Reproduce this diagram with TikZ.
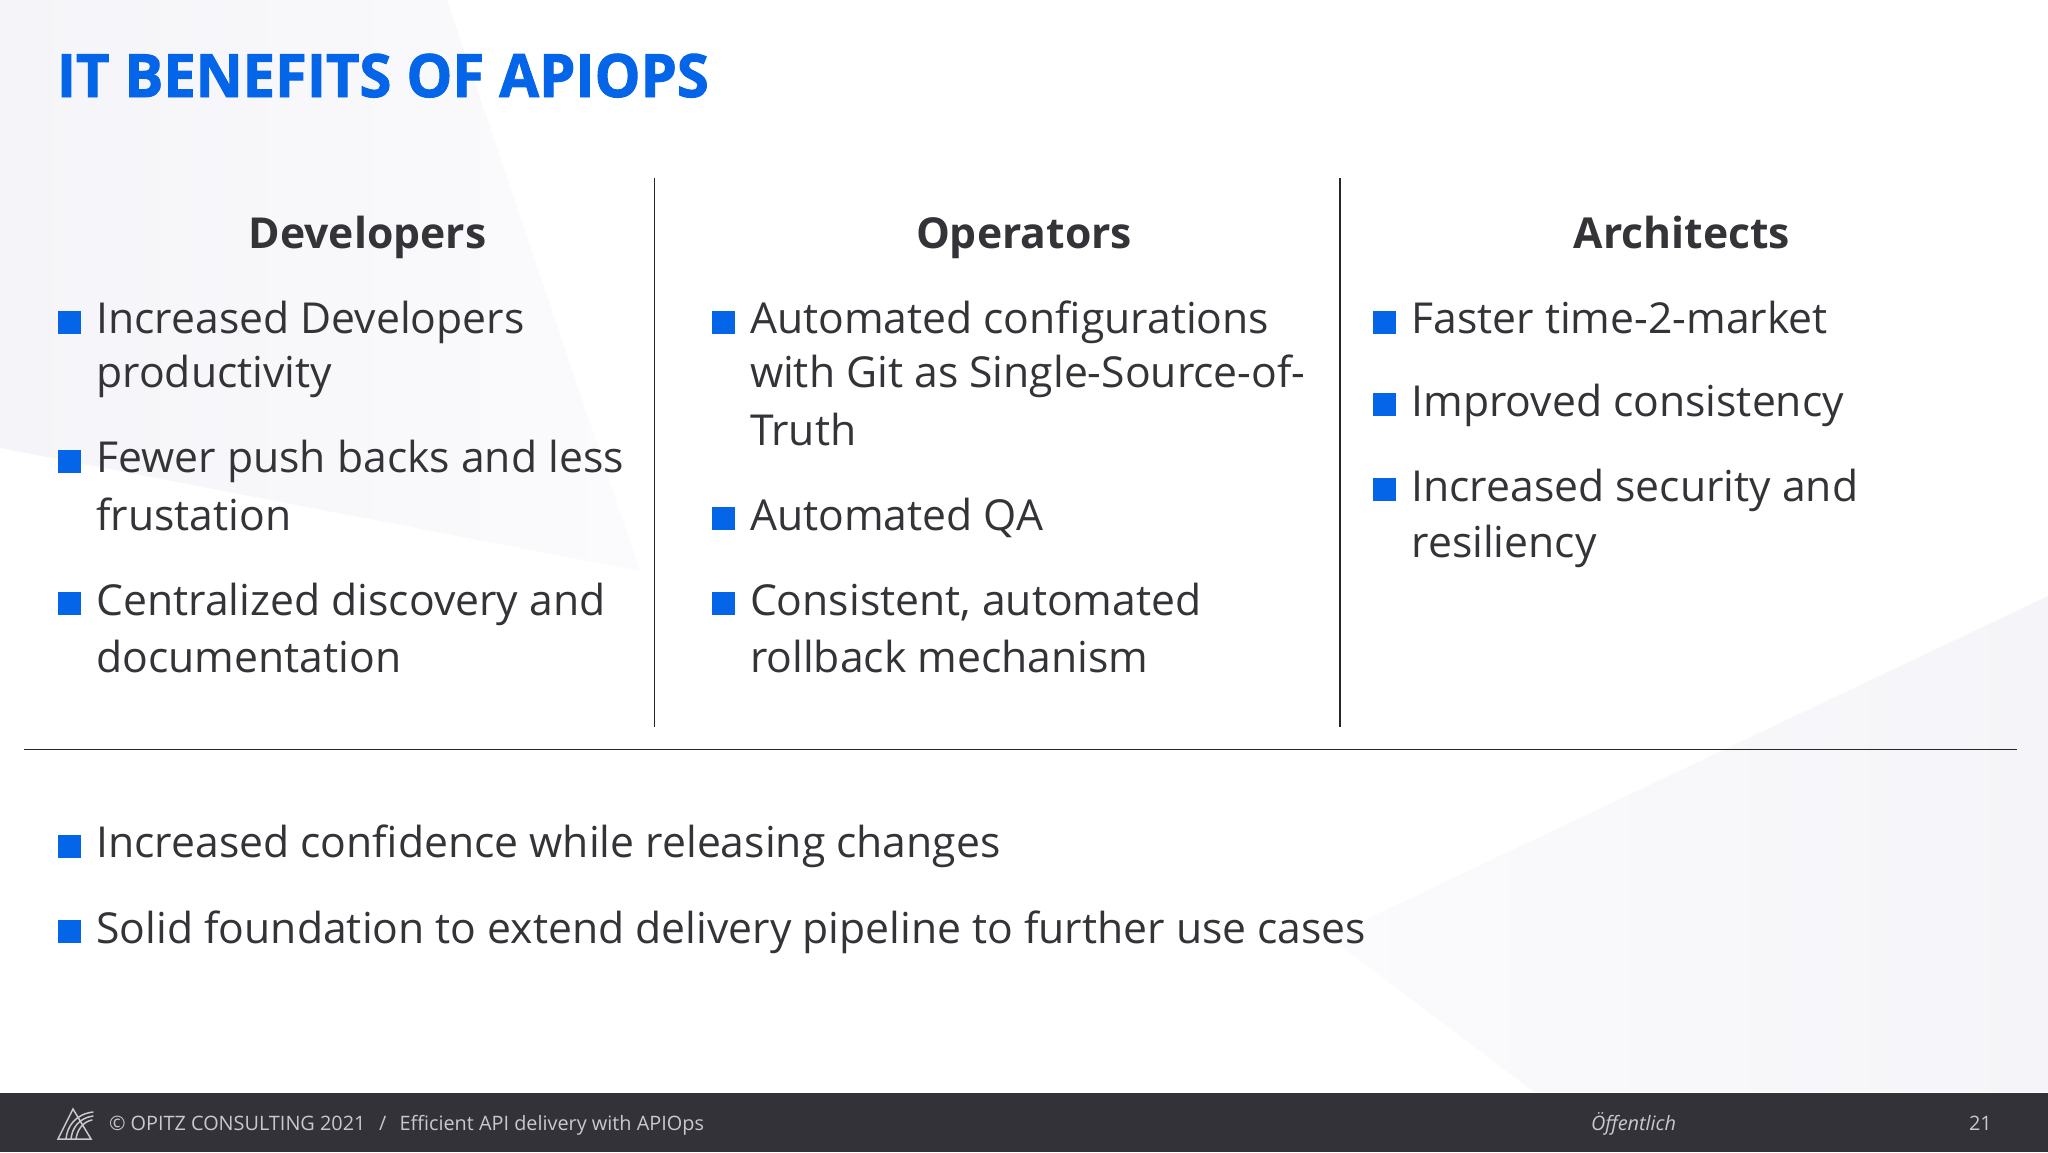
\documentclass[tikz,border=0pt]{standalone}
\usepackage{fontspec}
\setmainfont{Open Sans}
\newfontfamily\titlefont[FakeStretch=0.968,BoldFeatures={FakeBold=1.6}]{Open Sans}
\definecolor{bgtri}{HTML}{F5F4F8}
\definecolor{bgfade}{HTML}{FBFBFD}
\definecolor{footbg}{HTML}{323238}
\definecolor{ink}{HTML}{333338}
\definecolor{brand}{HTML}{0565E8}
\definecolor{foottxt}{HTML}{C9C9CC}
\tikzset{
  txt/.style={anchor=base west,inner sep=0pt,outer sep=0pt,text=ink,font=\fontsize{21.33pt}{25pt}\selectfont},
  head/.style={anchor=base,inner sep=0pt,outer sep=0pt,text=ink,font=\fontsize{21.33pt}{25pt}\selectfont\bfseries},
  foot/.style={anchor=base west,inner sep=0pt,outer sep=0pt,text=foottxt,font=\fontsize{9.93pt}{12pt}\selectfont},
  sq/.style={fill=brand,draw=none},
  rule/.style={draw=black!85,line width=0.75pt},
  logo/.style={draw=foottxt,line width=0.75pt,line cap=round},
}
\newcommand{\bul}[2]{\fill[sq] (#1,#2-22) rectangle ++(23,23);}
\begin{document}
\begin{tikzpicture}[x=0.5pt,y=-0.5pt]
\useasboundingbox (0,0) rectangle (2048,1152);
\fill[white] (0,0) rectangle (2048,1152);
\shade[left color=bgtri,middle color=bgtri,right color=bgfade] (0,0) -- (447,0) -- (640,571) -- (0,448) -- cycle;
\shade[left color=bgfade,middle color=bgtri,right color=bgtri] (2048,596) -- (1329,937) -- (1534,1092) -- (2048,1092) -- cycle;
\fill[footbg] (0,1093) rectangle (2048,1152);
\node[anchor=base west,inner sep=0pt,text=brand,font=\fontsize{29.87pt}{35pt}\titlefont\bfseries] (title) at (56.5,97) {IT BENEFITS OF APIOPS};
% rules
\coordinate (v1t) at (654.5,178); \coordinate (v1b) at (654.5,727);
\coordinate (v2t) at (1340,178); \coordinate (v2b) at (1340,727);
\coordinate (hl) at (24,749.5); \coordinate (hr) at (2016.5,749.5);
\draw[rule] (v1t) -- (v1b);
\draw[rule] (v2t) -- (v2b);
\draw[rule] (hl) -- (hr);
% headings
\node[head] (h1) at (367.5,248) {Developers};
\node[head] (h2) at (1024,248) {Operators};
\node[head] (h3) at (1682,248) {Architects};
% column 1
\bul{58}{333}\node[txt] (a1) at (96.5,333.5) {Increased Developers};
\node[txt] (a2) at (96.5,387) {productivity};
\bul{58}{472}\node[txt] (a3) at (96.5,472.5) {Fewer push backs and less};
\node[txt] (a4) at (96.5,530) {frustation};
\bul{58}{614}\node[txt] (a5) at (96.5,615.5) {Centralized discovery and};
\node[txt] (a6) at (96.5,672) {documentation};
% column 2
\bul{712}{333}\node[txt] (b1) at (750,333.5) {Automated configurations};
\node[txt] (b2) at (750,387) {with Git as Single-Source-of-};
\node[txt] (b3) at (750,445.5) {Truth};
\bul{712}{529}\node[txt] (b4) at (750,530.5) {Automated QA};
\bul{712}{614}\node[txt] (b5) at (750,615.5) {Consistent, automated};
\node[txt] (b6) at (750,672) {rollback mechanism};
% column 3
\bul{1373}{333}\node[txt] (c1) at (1411.5,333.5) {Faster time-2-market};
\bul{1373}{415}\node[txt] (c2) at (1411.5,416) {Improved consistency};
\bul{1373}{500}\node[txt] (c3) at (1411.5,501.5) {Increased security and};
\node[txt] (c4) at (1411.5,557.5) {resiliency};
% bottom
\bul{58}{857}\node[txt] (d1) at (96.5,857.5) {Increased confidence while releasing changes};
\bul{58}{942}\node[txt] (d2) at (96.5,943) {Solid foundation to extend delivery pipeline to further use cases};
% footer
\node[foot] (f1) at (109,1130) {© OPITZ CONSULTING 2021};
\node[foot] (f2) at (379,1130) {/};
\node[foot] (f3) at (399.5,1130) {Efficient API delivery with APIOps};
\node[foot,font=\fontsize{9.93pt}{12pt}\selectfont\itshape] (f4) at (1591,1130) {Öffentlich};
\node[foot] (f5) at (1969,1130) {21};
% logo
\draw[logo] (73,1109) -- (58,1139) -- (91,1139) -- cycle;
\draw[logo] (66,1139) .. controls (67,1126) and (76,1114) .. (93,1112);
\draw[logo] (71,1139) .. controls (72,1128) and (79,1118) .. (93,1116);
\draw[logo] (76,1139) .. controls (77,1131) and (82,1122) .. (92,1120);
\end{tikzpicture}
\end{document}
